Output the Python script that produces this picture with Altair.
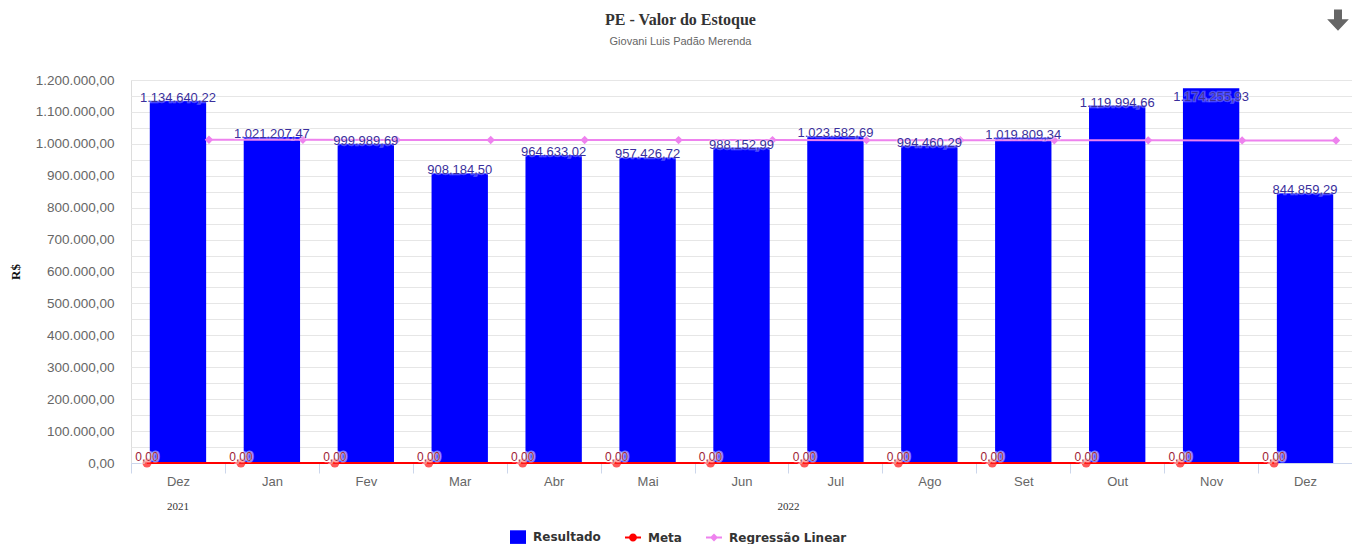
import altair as alt
import pandas as pd

# ---------------- data ----------------
meses = ["Dez", "Jan", "Fev", "Mar", "Abr", "Mai", "Jun", "Jul", "Ago", "Set", "Out", "Nov", "Dez"]
anos = ["2021"] + ["2022"] * 12
resultado = [1134640.22, 1021207.47, 999989.69, 908184.50, 964633.02, 957426.72,
             988152.99, 1023582.69, 994460.29, 1019809.34, 1119994.66, 1174255.93, 844859.29]
meta = [0, 0, 0, 0, 0, 0, 0, 0, 0, 0, 0, 0, 0]
regressao = [1012710, 1012530, 1012350, 1012170, 1011990, 1011810, 1011630,
             1011450, 1011270, 1011090, 1010910, 1010730, 1010550]
series = ["Resultado", "Meta", "Regressão Linear"]
cores = ["#0000ff", "#ff0000", "#ee82ee"]
y_ticks = list(range(0, 1200001, 50000))
rotulos_ano = ["2021", "2022"]

chaves = [f"{m}/{a}" for m, a in zip(meses, anos)]
df = pd.DataFrame({"chave": chaves, "mes": meses, "ano": anos,
                   "resultado": resultado, "meta": meta, "regressao": regressao})

W, H = 1221, 383

BR = ("replace(replace(replace(format({v}, ',.2f'), regexp(',', 'g'), '#'), "
      "regexp('\\\\.', 'g'), ','), regexp('#', 'g'), '.')")

x_scale = alt.Scale(domain=chaves, paddingInner=0, paddingOuter=0)
x_axis = alt.Axis(labelExpr="split(datum.label, '/')[0]", labelAngle=0,
                  labelFont="Liberation Sans", labelFontSize=13, labelColor="#666666",
                  labelPadding=2, domainColor="#ccd6eb", domainWidth=1,
                  tickColor="#ccd6eb", tickSize=10, tickBand="extent", grid=False,
                  title=None)
y_scale = alt.Scale(domain=[0, 1200000], nice=False, zero=True)
y_axis = alt.Axis(values=y_ticks, labelExpr=f"datum.value % 100000 == 0 ? {BR.format(v='datum.value')} : ''",
                  labelFont="Liberation Sans", labelFontSize=13.5, labelColor="#666666",
                  labelPadding=17, ticks=False, domain=False, grid=True,
                  gridColor="#e6e6e6", gridWidth=1,
                  title="R$", titleFont="Liberation Serif", titleFontSize=13,
                  titleFontWeight="bold", titleColor="#111111", titleAngle=-90,
                  titleX=-116, titleY=H / 2, titleAlign="center", titleBaseline="middle")


def X(bp=0.5):
    return alt.X("chave:N", sort=chaves, scale=x_scale, axis=x_axis, title=None, bandPosition=bp)


def Y(field):
    return alt.Y(f"{field}:Q", scale=y_scale, axis=y_axis, title="R$")


base = alt.Chart(df)

bars = base.mark_bar(color="#0000ff", width=alt.RelativeBandSize(0.6)).encode(
    x=X(), y=Y("resultado"))

meta_line = base.mark_line(color="#ff0000", strokeWidth=2).encode(x=X(0.17), y=Y("meta"))
meta_pts = base.mark_point(filled=True, color="#ff2020", opacity=0.75, size=80).encode(
    x=X(0.17), y=Y("meta"))

reg_line = base.mark_line(color="#ee82ee", strokeWidth=2).encode(x=X(0.83), y=Y("regressao"))
reg_pts = base.mark_point(filled=True, shape="diamond", color="#ee82ee", opacity=1, size=70).encode(
    x=X(0.83), y=Y("regressao"))

lab = base.transform_calculate(
    rotulo=BR.format(v="datum.resultado"),
    ypos="min(datum.resultado, 1136000)")
bar_halo = lab.mark_text(font="Liberation Sans", fontSize=13, baseline="middle", dy=-3,
                         stroke="white", strokeWidth=2.5, strokeOpacity=0.3, fill="white",
                         fillOpacity=0.3).encode(
    x=X(), y=Y("ypos"), text="rotulo:N")
bar_text = lab.mark_text(font="Liberation Sans", fontSize=13, baseline="middle", dy=-3,
                         color="#3a2f9c").encode(x=X(), y=Y("ypos"), text="rotulo:N")

mlab = base.transform_calculate(rotulo=BR.format(v="datum.meta"))
meta_halo = mlab.mark_text(font="Liberation Sans", fontSize=12, baseline="middle", dy=-6,
                           stroke="white", strokeWidth=3, strokeOpacity=0.5, fill="white").encode(
    x=X(0.17), y=Y("meta"), text="rotulo:N")
meta_text = mlab.mark_text(font="Liberation Sans", fontSize=12, baseline="middle", dy=-6,
                           color="#9e2236").encode(x=X(0.17), y=Y("meta"), text="rotulo:N")

ano1 = alt.Chart(pd.DataFrame({"chave": [chaves[0]], "ano": [rotulos_ano[0]]})).mark_text(
    font="Liberation Serif", fontSize=11, color="#333333", baseline="middle").encode(
    x=X(0.5), y=alt.value(H + 44), text="ano:N")
ano2 = alt.Chart(pd.DataFrame({"chave": [chaves[6]], "ano": [rotulos_ano[1]]})).mark_text(
    font="Liberation Serif", fontSize=11, color="#333333", baseline="middle").encode(
    x=X(1.0), y=alt.value(H + 44), text="ano:N")

sq = "M-1,-0.85 L1,-0.85 L1,0.85 L-1,0.85 Z"
ln_dot = ("M-1,-0.125 L1,-0.125 L1,0.125 L-1,0.125 Z "
          "M0.5,0 A0.5,0.5 0 1,1 -0.5,0 A0.5,0.5 0 1,1 0.5,0 Z")
ln_dia = ("M-1,-0.125 L1,-0.125 L1,0.125 L-1,0.125 Z "
          "M0,-0.5 L0.5,0 L0,0.5 L-0.5,0 Z")

leg = alt.Legend(orient="none", legendX=379, legendY=449,
                 direction="horizontal", title=None,
                 labelFont="DejaVu Sans", labelFontSize=12,
                 labelFontWeight="bold", labelColor="#333333",
                 symbolSize=256, symbolStrokeWidth=0,
                 labelOffset=7, columnPadding=24, padding=0)
legend_layer = alt.Chart(pd.DataFrame({"serie": series})).mark_point(
    filled=True, opacity=1, size=256).encode(
    x=alt.value(100), y=alt.value(2000),
    color=alt.Color("serie:N", scale=alt.Scale(domain=series, range=cores), legend=leg),
    shape=alt.Shape("serie:N", scale=alt.Scale(domain=series, range=[sq, ln_dot, ln_dia]),
                    legend=leg),
)

arrow = "M-0.35,-1 L0.35,-1 L0.35,-0.15 L0.95,-0.15 L0,0.85 L-0.95,-0.15 L-0.35,-0.15 Z"
icon = alt.Chart(pd.DataFrame({"i": [0]})).mark_point(
    shape=arrow, filled=True, color="#666666", opacity=1, size=520).encode(
    x=alt.value(1338 - 131), y=alt.value(21 - 80))

chart = alt.layer(
    bars, meta_line, reg_line, meta_pts, reg_pts,
    bar_halo, bar_text, meta_halo, meta_text, ano1, ano2, legend_layer, icon
).properties(
    width=W, height=H,
    title=alt.TitleParams(text="PE - Valor do Estoque", subtitle="Giovani Luis Padão Merenda",
                          anchor="middle", dx=-61, dy=62, font="Liberation Serif", fontSize=16,
                          fontWeight="bold", color="#333333",
                          subtitleFont="Liberation Sans", subtitleFontSize=11,
                          subtitleColor="#666666", subtitlePadding=8, offset=25),
    autosize=alt.AutoSizeParams(type="none"),
    padding={"left": 123, "top": 72, "right": 0, "bottom": 81},
).configure_view(stroke=None).configure(background="white")

chart.save("out.html", embed_options={"renderer": "svg", "actions": False})
